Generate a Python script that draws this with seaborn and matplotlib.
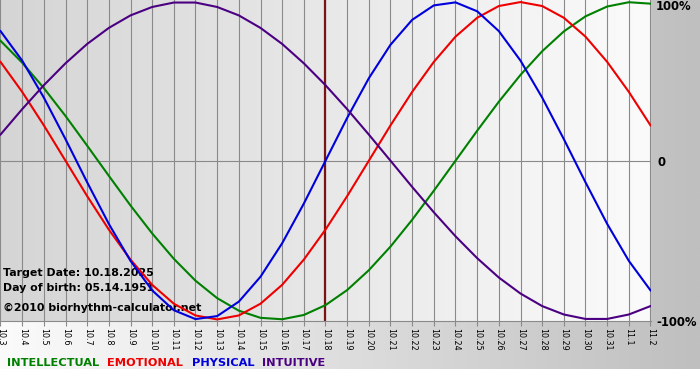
import numpy as np
import pandas as pd
import matplotlib
matplotlib.use("Agg")
import matplotlib.pyplot as plt
import seaborn as sns
from matplotlib.colors import LinearSegmentedColormap

dates = ["10.3", "10.4", "10.5", "10.6", "10.7", "10.8", "10.9", "10.10", "10.11",
         "10.12", "10.13", "10.14", "10.15", "10.16", "10.17", "10.18", "10.19",
         "10.20", "10.21", "10.22", "10.23", "10.24", "10.25", "10.26", "10.27",
         "10.28", "10.29", "10.30", "10.31", "11.1", "11.2"]
target_label = "10.18"

physical = [0.817, 0.631, 0.398, 0.136, -0.136, -0.398, -0.631, -0.817, -0.942, -0.998,
            -0.979, -0.888, -0.731, -0.520, -0.270, 0.0, 0.270, 0.520, 0.731, 0.888,
            0.979, 0.998, 0.942, 0.817, 0.631, 0.398, 0.136, -0.136, -0.398, -0.631, -0.817]
emotional = [0.623, 0.434, 0.223, 0.0, -0.223, -0.434, -0.623, -0.782, -0.901, -0.975,
             -1.0, -0.975, -0.901, -0.782, -0.623, -0.434, -0.223, 0.0, 0.223, 0.434,
             0.623, 0.782, 0.901, 0.975, 1.0, 0.975, 0.901, 0.782, 0.623, 0.434, 0.223]
intellectual = [0.756, 0.618, 0.458, 0.282, 0.095, -0.095, -0.282, -0.458, -0.618, -0.756,
                -0.866, -0.945, -0.990, -0.999, -0.972, -0.910, -0.815, -0.690, -0.541, -0.372,
                -0.189, 0.0, 0.189, 0.372, 0.541, 0.690, 0.815, 0.910, 0.972, 0.999, 0.990]
intuitive = [0.165, 0.325, 0.476, 0.614, 0.736, 0.837, 0.916, 0.969, 0.997, 0.997,
             0.969, 0.916, 0.837, 0.736, 0.614, 0.476, 0.325, 0.165, 0.0, -0.165,
             -0.325, -0.476, -0.614, -0.736, -0.837, -0.916, -0.969, -0.997, -0.997, -0.969, -0.916]

series_names = ["INTELLECTUAL", "EMOTIONAL", "PHYSICAL", "INTUITIVE"]
series_colors = ["#008000", "#ee0000", "#0000dd", "#4b0082"]
y_labels = ["100%", "0", "-100%"]
info_lines = ["Target Date: 10.18.2025", "Day of birth: 05.14.1951", "\u00a92010 biorhythm-calculator.net"]

W, H = 700, 380
fig = plt.figure(figsize=(W / 100, H / 100), dpi=100)
fig.patch.set_facecolor("white")

# background (pixel coordinates)
bg = fig.add_axes([0, 0, 1, 1])
bg.set_xlim(0, W)
bg.set_ylim(H, 0)
bg.axis("off")
cm_fig = LinearSegmentedColormap.from_list("g1", ["#fbfbfb", "#bfbfbf"])
bg.imshow(np.linspace(0, 1, 256)[None, :], cmap=cm_fig, extent=[0, 700, 369, 0], aspect="auto", zorder=0)
cm_plot = LinearSegmentedColormap.from_list("g2", ["#d5d5d5", "#fbfbfb"])
bg.imshow(np.linspace(0, 1, 256)[None, :], cmap=cm_plot, extent=[0, 651, 321, 0], aspect="auto", zorder=1)
bg.set_xlim(0, W)
bg.set_ylim(H, 0)

PL, PR, PT, PB = 0, 651, 0, 321
ax = fig.add_axes([PL / W, 1 - PB / H, (PR - PL) / W, (PB - PT) / H])
ax.set_facecolor("none")

data = {"INTELLECTUAL": intellectual, "EMOTIONAL": emotional,
        "PHYSICAL": physical, "INTUITIVE": intuitive}
rows = []
for name in series_names:
    for i, v in enumerate(data[name]):
        rows.append({"day": i, "value": v, "series": name})
df = pd.DataFrame(rows)

sns.lineplot(data=df, x="day", y="value", hue="series", hue_order=series_names,
             palette=dict(zip(series_names, series_colors)), legend=False,
             linewidth=1.5, ax=ax, sort=False, zorder=3)

n = len(dates)
span = n - 1
px_per = (PR - PL - 1) / span
ax.set_xlim(-0.5 / px_per, span + 0.5 / px_per)
ax.set_ylim(-1.010, 1.013)

ax.set_axisbelow(True)
ax.set_xticks(range(n))
ax.set_xticklabels(dates, rotation=270, fontsize=5.8, va="top", ha="center")
ax.set_yticks([])
ax.grid(axis="x", color="#8a8a8a", linewidth=0.8)
ax.axhline(0, color="#8a8a8a", linewidth=0.8, zorder=0.6)
ax.tick_params(axis="x", direction="out", length=3.6, width=0.8, color="#8a8a8a", pad=1.5)
ax.set_xlabel("")
ax.set_ylabel("")
for s in ["top", "left", "right"]:
    ax.spines[s].set_visible(False)
ax.spines["bottom"].set_color("#8a8a8a")
ax.spines["bottom"].set_linewidth(0.8)

ti = dates.index(target_label)
ax.axvline(ti, color="#7a1414", linewidth=1.6, zorder=1.8)

# info text (under curves)
ys = [276, 291, 311]
for t, yb in zip(info_lines, ys):
    ax.text(3 / (PR - PL), 1 - yb / (PB - PT), t, transform=ax.transAxes, fontsize=7.9,
            fontweight="bold", color="black", va="baseline", ha="left", zorder=1.5)

# right labels
for lab, yc in zip(y_labels, [7, 162, 322]):
    fig.text(656 / W if lab != "0" else 658 / W, 1 - yc / H, lab, fontsize=8.4, fontweight="bold",
             color="black", va="center", ha="left")

# legend texts
lx = [7, 107, 192, 262]
for name, col, x in zip(series_names, series_colors, lx):
    fig.text(x / W, 1 - 366 / H, name, fontsize=8.2, fontweight="bold", color=col,
             va="baseline", ha="left")

fig.savefig("out.png", dpi=100)
